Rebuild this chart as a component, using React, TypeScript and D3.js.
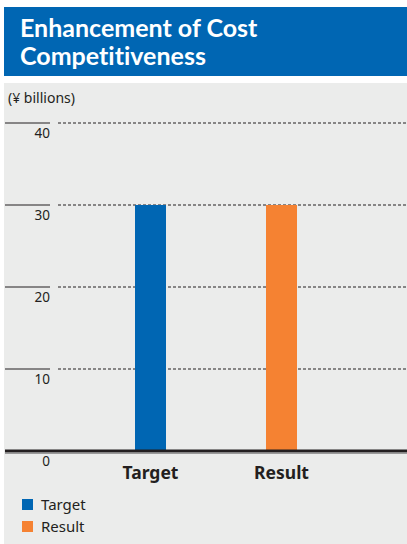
import React from "react";
import * as d3 from "d3";

const categories = ["Target", "Result"];
const values = [30, 30];
const colors = ["#0066B3", "#F58232"];
const tickValues = [0, 10, 20, 30, 40];
const titleLines = ["Enhancement of Cost", "Competitiveness"];
const unitLabel = "(¥ billions)";

const W = 407;
const H = 544;

export default function App() {
  const y = d3.scaleLinear().domain([0, 40]).range([451, 123]);
  const x = d3.scaleBand<string>().domain(categories).range([35, 397]).padding(100 / 131);
  const font = "'Noto Sans', 'Open Sans', sans-serif";
  const dark = "#231F20";
  return (
    <svg width={W} height={H} style={{ position: "absolute", left: 0, top: 0, background: "#fff" }} fontFamily={font}>
      <rect x={4} y={7} width={W - 4} height={69} fill="#0066B3" />
      {titleLines.map((t, i) => (
        <text key={t} x={20} y={37 + i * 28} fill="#fff" fontSize={25} fontWeight={700}
          fontFamily="Lato, 'Noto Sans', sans-serif" style={{ fontVariantLigatures: "none" }}>{t}</text>
      ))}
      <rect x={4} y={83} width={W - 4} height={H - 83} fill="#EBECEB" />
      <text x={8} y={103} fontSize={14} fill={dark}>{unitLabel}</text>
      {tickValues.map((v) => (
        <g key={v}>
          {v > 0 && <line x1={5} x2={50} y1={y(v)} y2={y(v)} stroke={dark} strokeWidth={1} />}
          {v > 0 && <line x1={58} x2={W} y1={y(v)} y2={y(v)} stroke={dark} strokeWidth={1} strokeDasharray="3,2" />}
          <text x={50} y={y(v) + 15} textAnchor="end" fontSize={13.5} fill={dark}>{v}</text>
        </g>
      ))}
      {categories.map((c, i) => (
        <rect key={c} x={x(c)} y={y(values[i])} width={x.bandwidth()} height={y(0) - y(values[i])} fill={colors[i]} />
      ))}
      <line x1={5} x2={W} y1={y(0)} y2={y(0)} stroke={dark} strokeWidth={3} />
      <line x1={5} x2={W} y1={y(0) + 2.5} y2={y(0) + 2.5} stroke="#9a9a9a" strokeWidth={1} />
      {categories.map((c) => (
        <text key={c} x={(x(c) ?? 0) + x.bandwidth() / 2} y={479} textAnchor="middle" fontSize={17.5} fontWeight={700} fill={dark}>{c}</text>
      ))}
      {categories.map((c, i) => (
        <g key={c}>
          <rect x={22} y={499 + i * 22} width={11} height={11} fill={colors[i]} />
          <text x={41} y={510 + i * 22} fontSize={15} fill={dark}>{c}</text>
        </g>
      ))}
    </svg>
  );
}
